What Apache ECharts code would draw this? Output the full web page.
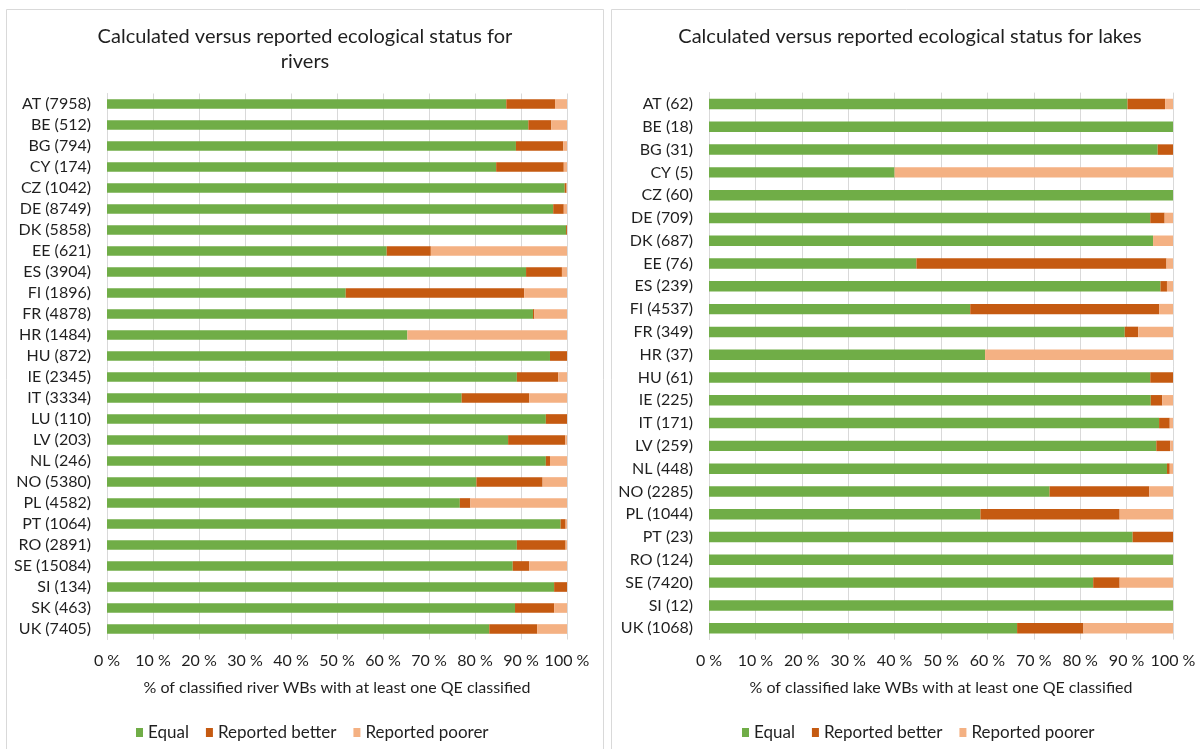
<!DOCTYPE html>
<html>
<head>
<meta charset="utf-8">
<script src="https://cdn.jsdelivr.net/npm/echarts@6/dist/echarts.min.js"></script>
<style>
  html, body { margin: 0; padding: 0; background: #ffffff; }
  #chart { width: 1200px; height: 749px; }
</style>
</head>
<body>
<div id="chart"></div>
<script>
// ---------- Data ----------
const riverCategories = ['AT (7958)','BE (512)','BG (794)','CY (174)','CZ (1042)','DE (8749)','DK (5858)','EE (621)','ES (3904)','FI (1896)','FR (4878)','HR (1484)','HU (872)','IE (2345)','IT (3334)','LU (110)','LV (203)','NL (246)','NO (5380)','PL (4582)','PT (1064)','RO (2891)','SE (15084)','SI (134)','SK (463)','UK (7405)'];
const riverEqual   = [86.8, 91.6, 88.9, 84.6, 99.5, 97.0, 99.8, 60.8, 91.1, 51.9, 92.6, 65.3, 96.3, 89.1, 77.1, 95.4, 87.2, 95.4, 80.3, 76.7, 98.6, 89.1, 88.2, 97.2, 88.7, 83.1];
const riverBetter  = [10.6,  5.0, 10.3, 14.7,  0.4,  2.3,  0.2,  9.6,  7.8, 38.8,  0.3,  0.0,  3.7,  9.0, 14.7,  4.6, 12.4,  0.9, 14.4,  2.3,  1.1, 10.6,  3.6,  2.8,  8.5, 10.4];
const riverPoorer  = [ 2.6,  3.4,  0.8,  0.7,  0.1,  0.7,  0.0, 29.6,  1.1,  9.3,  7.1, 34.7,  0.0,  1.9,  8.2,  0.0,  0.4,  3.7,  5.3, 21.0,  0.3,  0.3,  8.2,  0.0,  2.8,  6.5];

const lakeCategories = ['AT (62)','BE (18)','BG (31)','CY (5)','CZ (60)','DE (709)','DK (687)','EE (76)','ES (239)','FI (4537)','FR (349)','HR (37)','HU (61)','IE (225)','IT (171)','LV (259)','NL (448)','NO (2285)','PL (1044)','PT (23)','RO (124)','SE (7420)','SI (12)','UK (1068)'];
const lakeEqual   = [90.2, 100, 96.7, 40.0, 100, 95.1, 95.7, 44.7, 97.3, 56.3, 89.6, 59.5, 95.1, 95.2, 97.0, 96.4, 98.7, 73.4, 58.5, 91.3, 100, 82.8, 100, 66.4];
const lakeBetter  = [ 8.1,   0,  3.3,  0.0,   0,  3.1,  0.0, 53.9,  1.4, 40.7,  2.9,  0.0,  4.9,  2.5,  2.3,  3.0,  0.6, 21.5, 30.0,  8.7,   0,  5.7,   0, 14.3];
const lakePoorer  = [ 1.7,   0,  0.0, 60.0,   0,  1.8,  4.3,  1.4,  1.3,  3.0,  7.5, 40.5,  0.0,  2.3,  0.7,  0.6,  0.7,  5.1, 11.5,  0.0,   0, 11.5,   0, 19.3];

const seriesNames = ['Equal', 'Reported better', 'Reported poorer'];
const xTicks = [0, 10, 20, 30, 40, 50, 60, 70, 80, 90, 100];

const titleRivers = 'Calculated versus reported ecological status for\nrivers';
const titleLakes = 'Calculated versus reported ecological status for lakes';
const axisNameRivers = '% of classified river WBs with at least one QE classified';
const axisNameLakes = '% of classified lake WBs with at least one QE classified';

// ---------- Styling ----------
const COLORS = ['#70ad47', '#c55a11', '#f4b183'];
const FONT = 'Lato, "Open Sans", sans-serif';
const TEXT = '#1f1f1f';
const GRIDLINE = '#d9d9d9';

function xAxisFor(gridIndex, name) {
  return {
    type: 'value', gridIndex: gridIndex,
    min: xTicks[0], max: xTicks[xTicks.length - 1], interval: xTicks[1] - xTicks[0],
    name: name, nameLocation: 'middle', nameGap: 40,
    nameTextStyle: { color: TEXT, fontFamily: FONT, fontSize: 16 },
    axisLine: { show: false }, axisTick: { show: false },
    axisLabel: { color: TEXT, fontFamily: FONT, fontSize: 16, margin: 13, formatter: '{value} %' },
    splitLine: { show: true, lineStyle: { color: GRIDLINE, width: 1 } }
  };
}
function yAxisFor(gridIndex, cats) {
  return {
    type: 'category', gridIndex: gridIndex, data: cats, inverse: true,
    axisLine: { show: true, lineStyle: { color: GRIDLINE } },
    axisTick: { show: false },
    axisLabel: { color: TEXT, fontFamily: FONT, fontSize: 16, margin: 16 },
    splitLine: { show: false }
  };
}
function barSeries(axisIndex, stack, arrays) {
  return arrays.map((arr, i) => ({
    name: seriesNames[i], type: 'bar', stack: stack,
    xAxisIndex: axisIndex, yAxisIndex: axisIndex,
    data: arr, barWidth: '46%',
    itemStyle: { color: COLORS[i] },
    emphasis: { disabled: true }
  }));
}

const chart = echarts.init(document.getElementById('chart'), null, { renderer: 'canvas' });
chart.setOption({
  animation: false,
  color: COLORS,
  graphic: [
    { type: 'rect', shape: { x: 6.5, y: 9.5, width: 597, height: 760 }, style: { fill: '#fff', stroke: GRIDLINE, lineWidth: 1 }, z: -10 },
    { type: 'rect', shape: { x: 611.5, y: 9.5, width: 600, height: 760 }, style: { fill: '#fff', stroke: GRIDLINE, lineWidth: 1 }, z: -10 },
    { type: 'text', x: 305, y: 24, style: { text: titleRivers, fill: TEXT, font: '20px ' + FONT, textAlign: 'center', lineHeight: 25 } },
    { type: 'text', x: 910, y: 24, style: { text: titleLakes, fill: TEXT, font: '20px ' + FONT, textAlign: 'center', lineHeight: 25 } }
  ],
  legend: [
    { data: seriesNames, left: 131, top: 719, icon: 'rect', itemWidth: 7, itemHeight: 9, itemGap: 17,
      textStyle: { color: TEXT, fontFamily: FONT, fontSize: 17 }, selectedMode: false },
    { data: seriesNames, left: 737, top: 719, icon: 'rect', itemWidth: 7, itemHeight: 9, itemGap: 17,
      textStyle: { color: TEXT, fontFamily: FONT, fontSize: 17 }, selectedMode: false }
  ],
  grid: [
    { left: 107, top: 93.5, width: 460, height: 546 },
    { left: 709, top: 92.6, width: 464, height: 547 }
  ],
  xAxis: [xAxisFor(0, axisNameRivers), xAxisFor(1, axisNameLakes)],
  yAxis: [yAxisFor(0, riverCategories), yAxisFor(1, lakeCategories)],
  series: [].concat(
    barSeries(0, 'rivers', [riverEqual, riverBetter, riverPoorer]),
    barSeries(1, 'lakes', [lakeEqual, lakeBetter, lakePoorer])
  )
});
</script>
</body>
</html>
